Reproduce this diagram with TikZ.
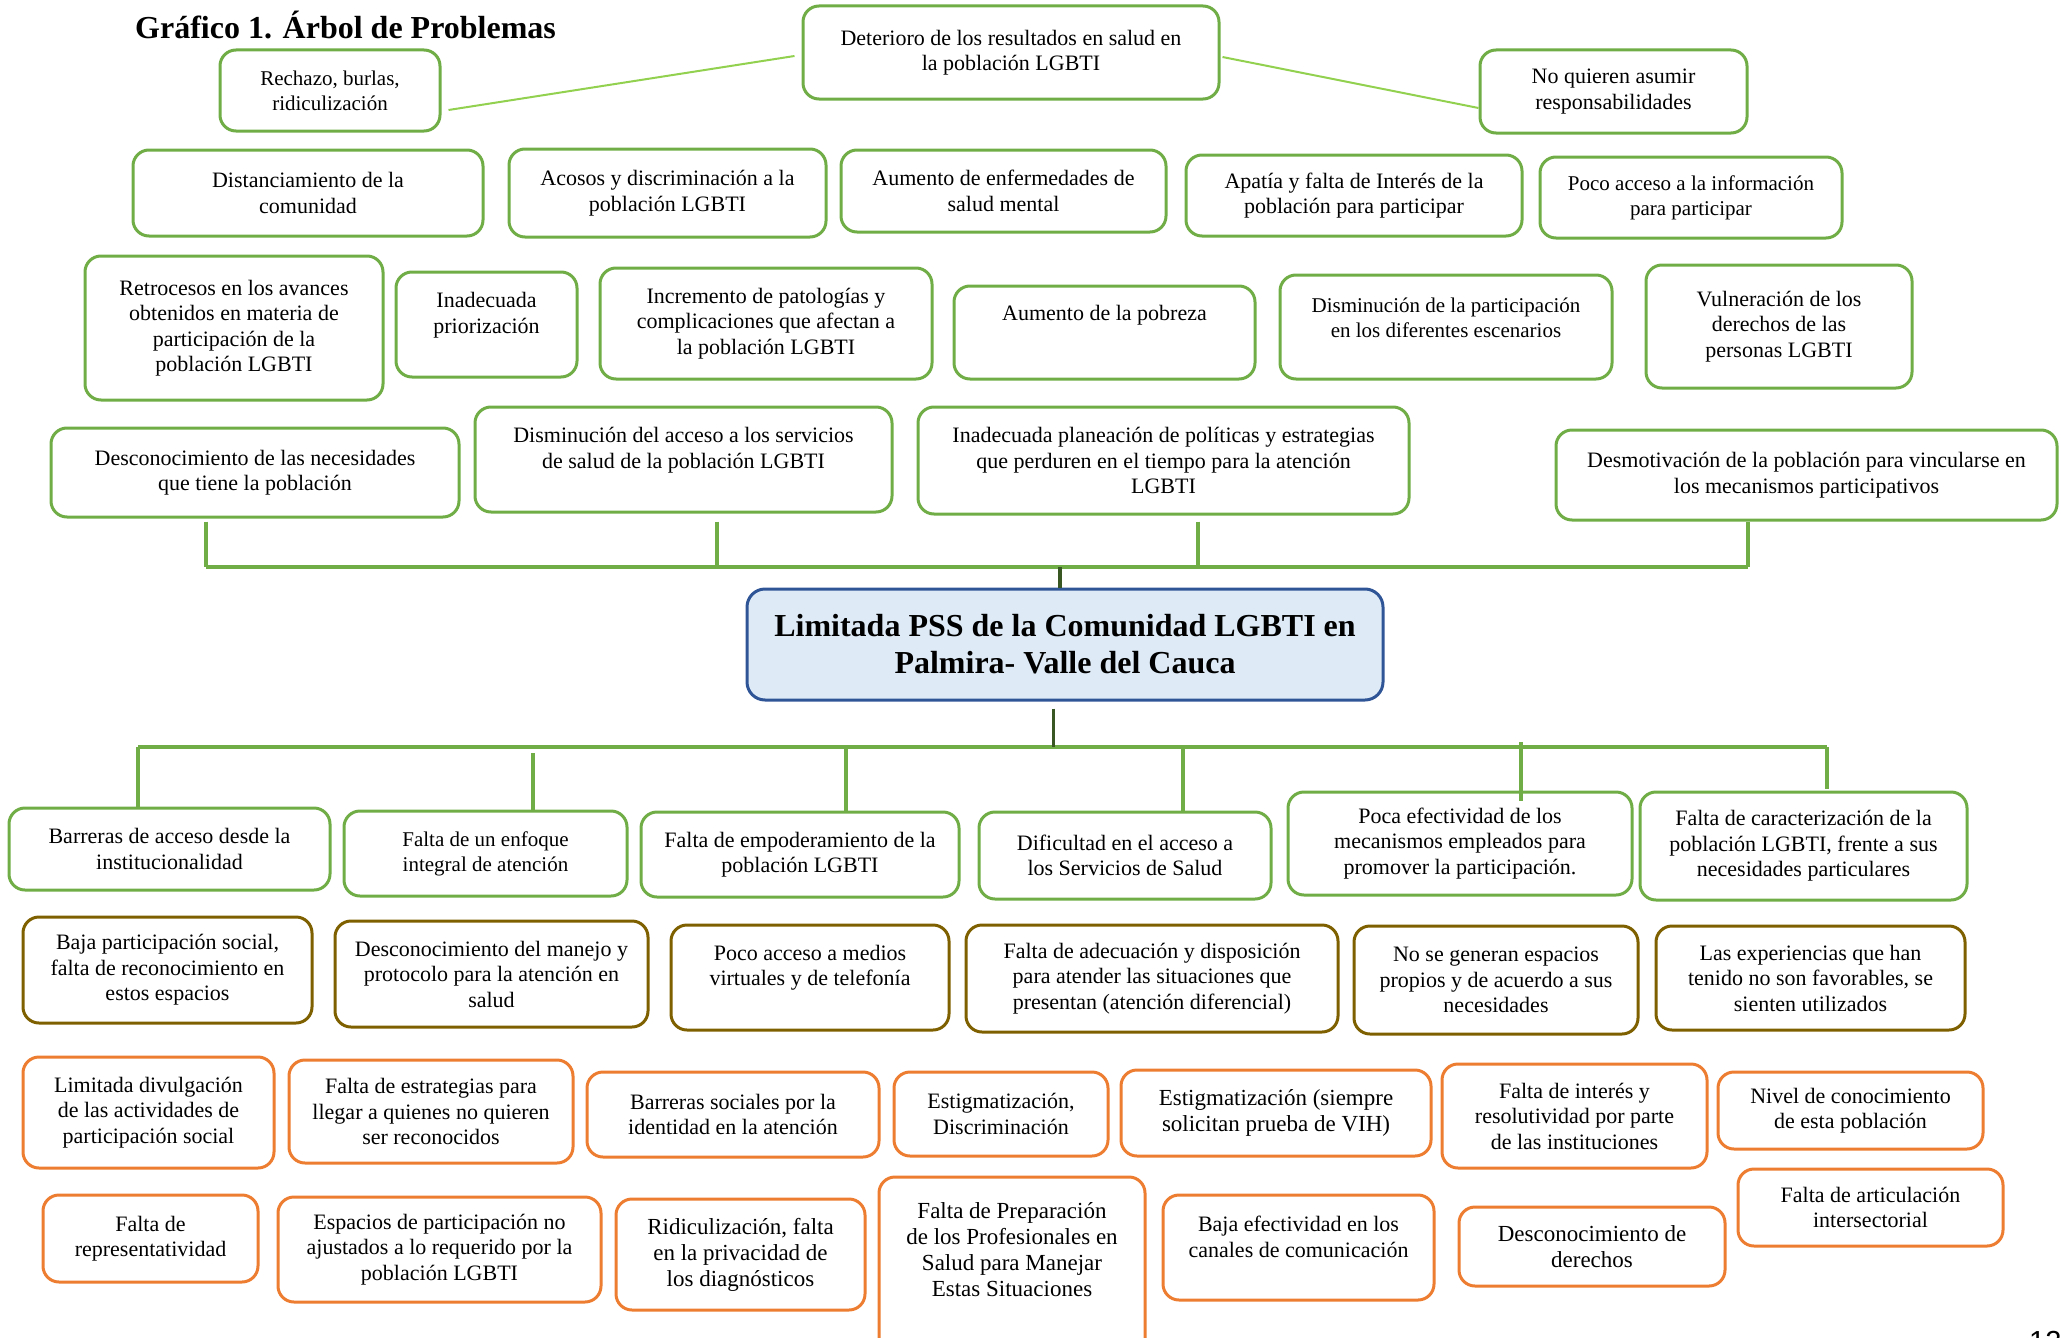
\documentclass[tikz,border=0pt]{standalone}
\usepackage{fontspec}
\setmainfont{Liberation Serif}
\newfontfamily\numfont{Liberation Sans}
\definecolor{verde}{HTML}{70AD47}
\definecolor{verdeclaro}{HTML}{92D050}
\definecolor{verdeosc}{HTML}{385723}
\definecolor{cafe}{HTML}{7F6000}
\definecolor{naranja}{HTML}{ED7D31}
\definecolor{azul}{HTML}{2F5597}
\definecolor{celeste}{HTML}{DEEBF7}
\begin{document}
\begin{tikzpicture}[x=1pt,y=-1pt,
  caja/.style={draw=verde,line width=3pt,rounded corners=16pt,inner sep=0pt,align=center,font=\fontsize{22}{25.5}\selectfont},
  cajacafe/.style={caja,draw=cafe},
  cajanar/.style={caja,draw=naranja},
  texto/.style={inner sep=0pt,align=center,font=\fontsize{22}{25.5}\selectfont},
  chica/.style={font=\fontsize{21}{25}\selectfont},
  grande/.style={font=\fontsize{23}{26}\selectfont},
  barra/.style={draw=verde,line width=4pt},
  tallo/.style={draw=verde,line width=3.5pt},
  diag/.style={draw=verdeclaro,line width=2pt},
  oscuro/.style={draw=verdeosc,line width=3.5pt}]
\useasboundingbox (0,0) rectangle (2061,1338);
\node[anchor=base west,inner sep=0pt,font=\fontsize{32}{36}\selectfont\bfseries] (titulo) at (135,39) {Gráfico 1. Árbol de Problemas};
\node[caja,minimum width=416,minimum height=93] (deterioro) at (1011,52.5) {Deterioro de los resultados en salud en\\la población LGBTI};
\node[caja,chica,minimum width=220,minimum height=81] (rechazo) at (330,90.5) {Rechazo, burlas,\\ridiculización};
\node[caja,minimum width=267,minimum height=83] (noquieren) at (1613.5,91.5) {No quieren asumir\\responsabilidades};
\node[caja,minimum width=350,minimum height=86] (distanciamiento) at (308,193) {Distanciamiento de la\\comunidad};
\node[caja,minimum width=317,minimum height=88] (acosos) at (667.5,193) {Acosos y discriminación a la\\población LGBTI};
\node[caja,minimum width=325,minimum height=82] (enfermedades) at (1003.5,191) {Aumento de enfermedades de\\salud mental};
\node[caja,minimum width=336,minimum height=81] (apatia) at (1354,195.5) {Apatía y falta de Interés de la\\población para participar};
\node[caja,chica,minimum width=302,minimum height=81] (pocoinfo) at (1691,197.5) {Poco acceso a la información\\para participar};
\node[caja,minimum width=298,minimum height=144] (retrocesos) at (234,328) {Retrocesos en los avances\\obtenidos en materia de\\participación de la\\población LGBTI};
\node[caja,minimum width=181,minimum height=105] (priorizacion) at (486.5,324.5) {};
\node[texto] (t-priorizacion) at (486.5,315) {Inadecuada\\priorización};
\node[caja,minimum width=332,minimum height=111] (incremento) at (766,323.5) {Incremento de patologías y\\complicaciones que afectan a\\la población LGBTI};
\node[caja,minimum width=301,minimum height=93] (pobreza) at (1104.5,332.5) {};
\node[texto] (t-pobreza) at (1104.5,315) {Aumento de la pobreza};
\node[caja,minimum width=332,minimum height=104] (disparticipacion) at (1446,327) {};
\node[texto,chica] (t-disparticipacion) at (1446,317.5) {Disminución de la participación\\en los diferentes escenarios};
\node[caja,minimum width=266,minimum height=123] (vulneracion) at (1779,326.5) {Vulneración de los\\derechos de las\\personas LGBTI};
\node[caja,minimum width=408,minimum height=89] (necesidades) at (255,472.5) {Desconocimiento de las necesidades\\que tiene la población};
\node[caja,minimum width=417,minimum height=105] (disacceso) at (683.5,459.5) {};
\node[texto] (t-disacceso) at (683.5,450) {Disminución del acceso a los servicios\\de salud de la población LGBTI};
\node[caja,minimum width=491,minimum height=107] (planeacion) at (1163.5,460.5) {Inadecuada planeación de políticas y estrategias\\que perduren en el tiempo para la atención\\LGBTI};
\node[caja,minimum width=501,minimum height=90] (desmotivacion) at (1806.5,475) {Desmotivación de la población para vincularse en\\los mecanismos participativos};
\node[draw=azul,fill=celeste,line width=3pt,rounded corners=18pt,minimum width=636,minimum height=111,align=center,font=\fontsize{32}{37}\selectfont\bfseries] (central) at (1065,644.5) {Limitada PSS de la Comunidad LGBTI en\\Palmira- Valle del Cauca};
\node[caja,minimum width=321,minimum height=82] (barreras) at (169.5,849) {Barreras de acceso desde la\\institucionalidad};
\node[caja,chica,minimum width=283,minimum height=85] (enfoque) at (485.5,853.5) {Falta de un enfoque\\integral de atención};
\node[caja,minimum width=318,minimum height=85] (empoderamiento) at (800,854.5) {Falta de empoderamiento de la\\población LGBTI};
\node[caja,minimum width=292,minimum height=87] (dificultad) at (1125,855.5) {Dificultad en el acceso a\\los Servicios de Salud};
\node[caja,minimum width=344,minimum height=103] (efectividad) at (1460,843.5) {Poca efectividad de los\\mecanismos empleados para\\promover la participación.};
\node[caja,minimum width=327,minimum height=108] (caracterizacion) at (1803.5,846) {Falta de caracterización de la\\población LGBTI, frente a sus\\necesidades particulares};
\node[cajacafe,minimum width=289,minimum height=106] (bajapart) at (167.5,970) {Baja participación social,\\falta de reconocimiento en\\estos espacios};
\node[cajacafe,minimum width=313,minimum height=106] (manejo) at (491.5,974) {Desconocimiento del manejo y\\protocolo para la atención en\\salud};
\node[cajacafe,minimum width=278,minimum height=105] (medios) at (810,977.5) {};
\node[texto] (t-medios) at (810,967.5) {Poco acceso a medios\\virtuales y de telefonía};
\node[cajacafe,minimum width=372,minimum height=107] (adecuacion) at (1152,978.5) {Falta de adecuación y disposición\\para atender las situaciones que\\presentan (atención diferencial)};
\node[cajacafe,minimum width=284,minimum height=108] (espaciospropios) at (1496,980) {No se generan espacios\\propios y de acuerdo a sus\\necesidades};
\node[cajacafe,minimum width=309,minimum height=104] (experiencias) at (1810.5,978) {Las experiencias que han\\tenido no son favorables, se\\sienten utilizados};
\node[cajanar,minimum width=251,minimum height=111] (divulgacion) at (148.5,1112.5) {Limitada divulgación\\de las actividades de\\participación social};
\node[cajanar,minimum width=284,minimum height=103] (estrategias) at (431,1111.5) {Falta de estrategias para\\llegar a quienes no quieren\\ser reconocidos};
\node[cajanar,minimum width=292,minimum height=85] (barrsociales) at (733,1114.5) {Barreras sociales por la\\identidad en la atención};
\node[cajanar,minimum width=214,minimum height=84] (estigma) at (1001,1114) {Estigmatización,\\Discriminación};
\node[cajanar,grande,minimum width=310,minimum height=86] (estigmavih) at (1276,1113) {Estigmatización (siempre\\solicitan prueba de VIH)};
\node[cajanar,minimum width=265,minimum height=104] (interes) at (1574.5,1116) {Falta de interés y\\resolutividad por parte\\de las instituciones};
\node[cajanar,minimum width=265,minimum height=77] (nivel) at (1850.5,1110.5) {Nivel de conocimiento\\de esta población};
\node[cajanar,minimum width=215,minimum height=87] (representatividad) at (150.5,1238.5) {Falta de\\representatividad};
\node[cajanar,minimum width=323,minimum height=105] (espaciospart) at (439.5,1249.5) {Espacios de participación no\\ajustados a lo requerido por la\\población LGBTI};
\node[cajanar,grande,minimum width=249,minimum height=111] (ridiculizacion) at (740.5,1254.5) {Ridiculización, falta\\en la privacidad de\\los diagnósticos};
\node[cajanar,minimum width=266,minimum height=193] (preparacion) at (1012,1273.5) {};
\node[texto,grande] (t-preparacion) at (1012,1250) {Falta de Preparación\\de los Profesionales en\\Salud para Manejar\\Estas Situaciones};
\node[cajanar,minimum width=271,minimum height=105] (bajaefect) at (1298.5,1247.5) {};
\node[texto] (t-bajaefect) at (1298.5,1237) {Baja efectividad en los\\canales de comunicación};
\node[cajanar,grande,minimum width=266,minimum height=79] (derechos) at (1592,1246.5) {Desconocimiento de\\derechos};
\node[cajanar,minimum width=265,minimum height=77] (articulacion) at (1870.5,1207.5) {Falta de articulación\\intersectorial};
\node[anchor=north west,inner sep=0pt,font=\numfont\fontsize{29}{30}\selectfont] (pagina) at (2029,1331) {12};
\draw[diag] ([xshift=7pt,yshift=-19.5pt]rechazo.east) -- ([xshift=-7pt,yshift=-3.5pt]deterioro.west);
\draw[diag] ([xshift=2pt,yshift=-4.5pt]deterioro.east) -- ([yshift=-16.5pt]noquieren.west);
\coordinate (u1) at (206,567);
\coordinate (u2) at (717,567);
\coordinate (u3) at (1198,567);
\coordinate (u4) at (1748,567);
\draw[barra] (u1) -- (u4);
\draw[tallo] ([yshift=-3pt]necesidades.south -| u1) -- (u1);
\draw[tallo] ([yshift=-8pt]disacceso.south -| u2) -- (u2);
\draw[tallo] ([yshift=-6pt]planeacion.south -| u3) -- (u3);
\draw[tallo] (desmotivacion.south -| u4) -- (u4);
\draw[oscuro] ([xshift=-5pt]central.north) -- ([xshift=-5pt]central.north |- u1);
\coordinate (l1) at (138,747);
\coordinate (l2) at (533,747);
\coordinate (l3) at (846,747);
\coordinate (l4) at (1183,747);
\coordinate (l5) at (1521,747);
\coordinate (l6) at (1827,747);
\draw[barra] (l1) -- (l6);
\draw[oscuro] ([xshift=-11.5pt,yshift=-7pt]central.south) -- ([xshift=-11.5pt]central.south |- l1);
\draw[tallo] (l1) -- (l1 |- barreras.north);
\draw[tallo] ([yshift=-6pt]l2) -- (l2 |- enfoque.north);
\draw[tallo] (l3) -- (l3 |- empoderamiento.north);
\draw[tallo] (l4) -- (l4 |- dificultad.north);
\draw[tallo] ([yshift=5pt]l5) -- ([yshift=-10pt]l5 |- efectividad.north);
\draw[tallo] (l6) -- ([yshift=2pt]l6 |- caracterizacion.north);
\end{tikzpicture}
\end{document}
